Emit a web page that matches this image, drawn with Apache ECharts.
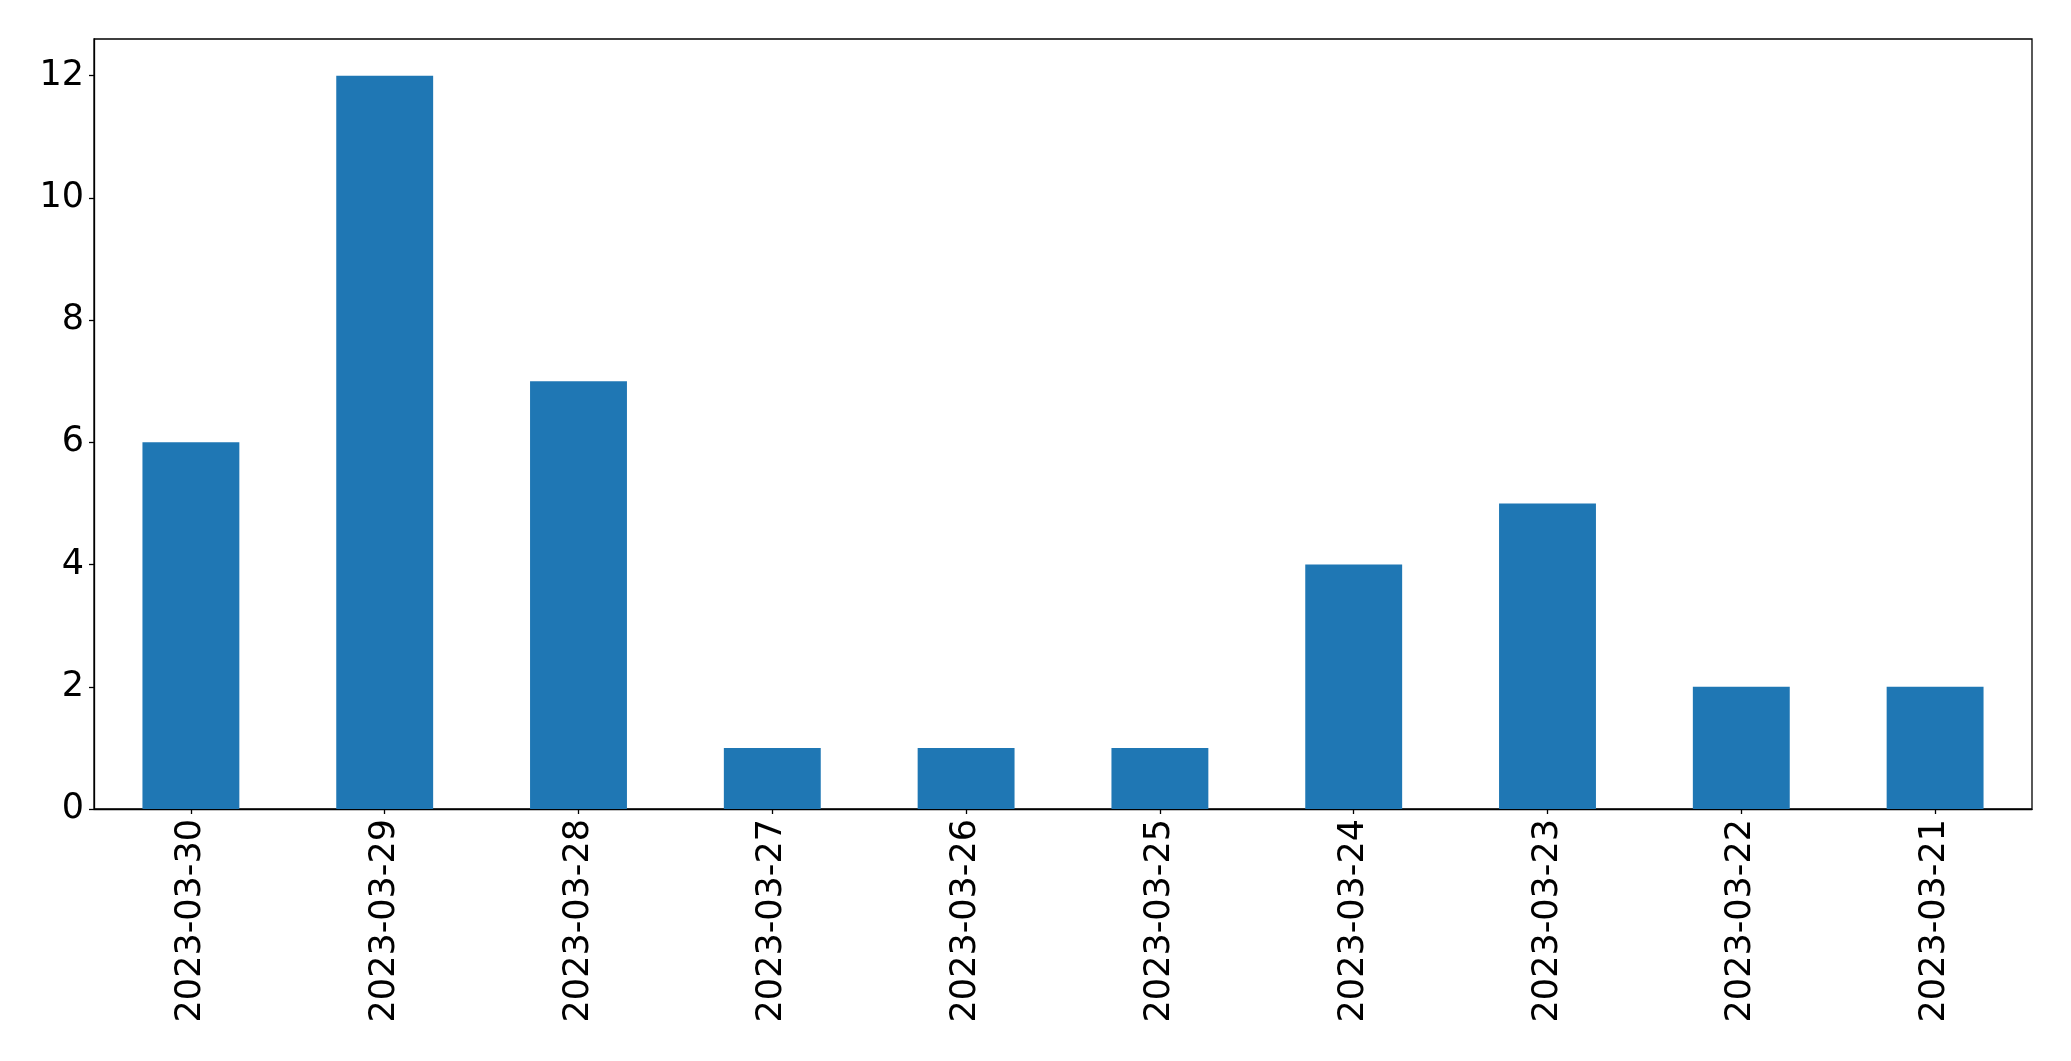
<!DOCTYPE html>
<html>
<head>
<meta charset="utf-8">
<script src="https://cdn.jsdelivr.net/npm/echarts@6/dist/echarts.min.js"></script>
<style>
  html, body { margin: 0; padding: 0; background: #fff; }
  #chart { width: 2071px; height: 1061px; }
</style>
</head>
<body>
<div id="chart"></div>
<script>
// data
var dates = ["2023-03-30", "2023-03-29", "2023-03-28", "2023-03-27", "2023-03-26",
             "2023-03-25", "2023-03-24", "2023-03-23", "2023-03-22", "2023-03-21"];
var counts = [6, 12, 7, 1, 1, 1, 4, 5, 2, 2];
var yTicks = [0, 2, 4, 6, 8, 10, 12];

var myChart = echarts.init(document.getElementById("chart"));

var option = {
  animation: false,
  grid: {
    left: 94,
    right: 39,
    top: 39,
    bottom: 252,
    show: true,
    borderColor: "#000",
    borderWidth: 1.3,
    backgroundColor: "transparent"
  },
  xAxis: {
    type: "category",
    data: dates,
    axisLine: { show: true, lineStyle: { color: "#000", width: 1.3 } },
    axisTick: { show: true, alignWithLabel: true, interval: 0, length: 5, lineStyle: { color: "#000", width: 1.3 } },
    axisLabel: {
      interval: 0,
      rotate: 90,
      margin: 10,
      color: "#000",
      fontSize: 35,
      fontFamily: "DejaVu Sans"
    },
    splitLine: { show: false }
  },
  yAxis: {
    type: "value",
    min: 0,
    max: 12.6,
    axisLine: { show: true, lineStyle: { color: "#000", width: 1.3 } },
    axisTick: { show: true, length: 5, customValues: yTicks, lineStyle: { color: "#000", width: 1.3 } },
    axisLabel: {
      customValues: yTicks,
      margin: 10,
      color: "#000",
      fontSize: 35,
      fontFamily: "DejaVu Sans"
    },
    splitLine: { show: false }
  },
  series: [
    {
      type: "bar",
      data: counts,
      barWidth: "50%",
      itemStyle: { color: "#1f77b4" }
    }
  ]
};

myChart.setOption(option);
</script>
</body>
</html>
